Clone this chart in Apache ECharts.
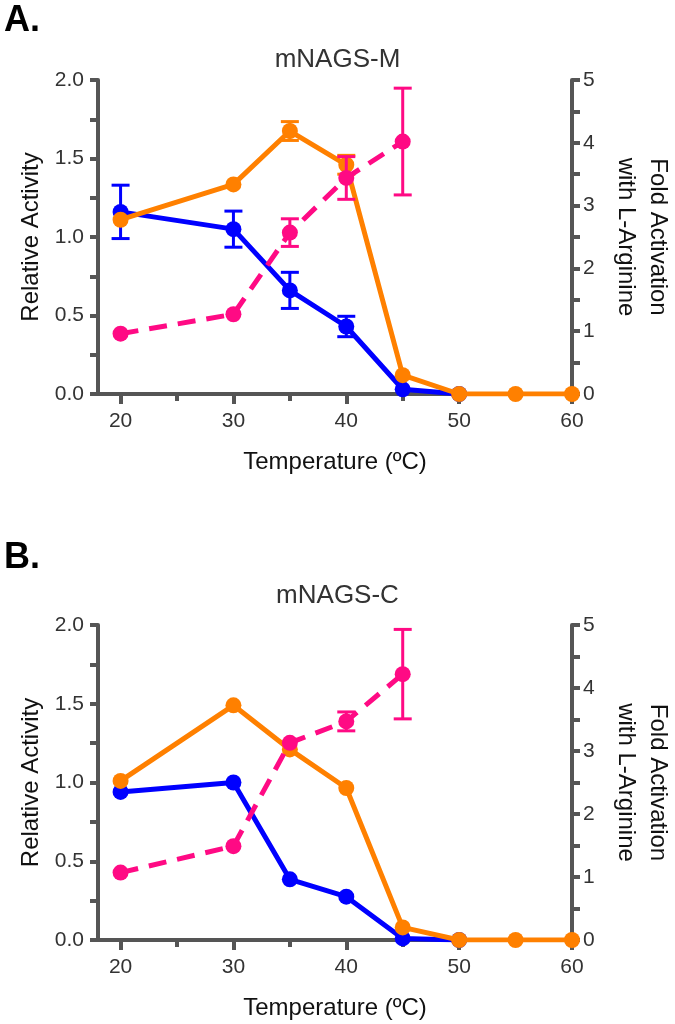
<!DOCTYPE html>
<html>
<head>
<meta charset="utf-8">
<script src="https://cdn.jsdelivr.net/npm/echarts@6/dist/echarts.min.js"></script>
<style>
html, body { margin: 0; padding: 0; background: #fff; }
#chart { width: 675px; height: 1024px; }
</style>
</head>
<body>
<div id="chart"></div>
<script>
var temps = [20, 30, 35, 40, 45, 50, 55, 60];

// A. mNAGS-M
var mNoArg = [1.16, 1.05, 0.66, 0.43, 0.03, 0, null, null];
var mNoArgErr = [0.17, 0.115, 0.115, 0.065, 0, 0, null, null];
var mArg = [1.11, 1.335, 1.675, 1.46, 0.12, 0, 0, 0];
var mArgErr = [0, 0, 0.06, 0.06, 0, 0, 0, 0];
var mFold = [0.96, 1.27, 2.57, 3.44, 4.02, null, null, null];
var mFoldErr = [0, 0, 0.22, 0.34, 0.85, null, null, null];

// B. mNAGS-C
var cNoArg = [0.94, 1.0, 0.385, 0.275, 0.01, 0, null, null];
var cArg = [1.01, 1.49, 1.21, 0.965, 0.08, 0, 0, 0];
var cFold = [1.07, 1.49, 3.13, 3.47, 4.22, null, null, null];
var cFoldErr = [0, 0, 0, 0.15, 0.71, null, null, null];

var xMajor = [20, 30, 40, 50, 60];
var xMinor = [25, 35, 45, 55];

var FONT = 'Liberation Sans, Arial, sans-serif';
var AXIS = '#555';
var BLUE = '#0000ff', ORANGE = '#ff8000', PINK = '#ff0a84';

function pts(vals) {
	var out = [];
	for (var i = 0; i < temps.length; i++) {
		if (vals[i] != null) out.push([temps[i], vals[i]]);
	}
	return out;
}
function errs(vals, err) {
	var out = [];
	for (var i = 0; i < temps.length; i++) {
		if (vals[i] != null && err[i]) out.push([temps[i], vals[i] - err[i], vals[i] + err[i]]);
	}
	return out;
}

function lineSeries(vals, color, xi, yi, z, dashed) {
	return {
		type: 'line', xAxisIndex: xi, yAxisIndex: yi, z: z,
		data: pts(vals), symbol: 'circle', symbolSize: 16,
		itemStyle: { color: color },
		lineStyle: { color: color, width: 5, type: dashed ? [18, 11] : 'solid' },
		animation: false, silent: true
	};
}

function errSeries(data, color, xi, yi, z) {
	return {
		type: 'custom', xAxisIndex: xi, yAxisIndex: yi, z: z, silent: true,
		data: data, encode: { x: 0, y: [1, 2] }, animation: false,
		renderItem: function (params, api) {
			var x = api.value(0);
			var lo = api.coord([x, api.value(1)]);
			var hi = api.coord([x, api.value(2)]);
			var w = 9;
			var st = { stroke: color, lineWidth: 3 };
			return {
				type: 'group', children: [
					{ type: 'line', shape: { x1: lo[0], y1: lo[1], x2: hi[0], y2: hi[1] }, style: st },
					{ type: 'line', shape: { x1: lo[0] - w, y1: lo[1], x2: lo[0] + w, y2: lo[1] }, style: st },
					{ type: 'line', shape: { x1: hi[0] - w, y1: hi[1], x2: hi[0] + w, y2: hi[1] }, style: st }
				]
			};
		}
	};
}

function xMain(gi) {
	return {
		type: 'value', gridIndex: gi, min: 18, max: 60, position: 'bottom',
		name: 'Temperature (ºC)', nameLocation: 'middle', nameGap: 56,
		nameTextStyle: { fontSize: 24, color: '#111', fontFamily: FONT },
		axisLine: { onZero: false, lineStyle: { color: AXIS, width: 4 } },
		axisTick: { customValues: xMajor, length: 10, lineStyle: { color: AXIS, width: 4 } },
		axisLabel: { customValues: xMajor, margin: 17, fontSize: 21, color: '#333', fontFamily: FONT },
		splitLine: { show: false }
	};
}
function xMinorAxis(gi) {
	return {
		type: 'value', gridIndex: gi, min: 18, max: 60, position: 'bottom',
		axisLine: { show: false, onZero: false },
		axisTick: { customValues: xMinor, length: 7, lineStyle: { color: AXIS, width: 4 } },
		axisLabel: { show: false },
		splitLine: { show: false }
	};
}
function yLeft(gi) {
	return {
		type: 'value', gridIndex: gi, min: 0, max: 2, interval: 0.25, position: 'left',
		name: 'Relative Activity', nameLocation: 'middle', nameGap: 55,
		nameTextStyle: { fontSize: 24, color: '#111', fontFamily: FONT },
		axisLine: { show: true, onZero: false, lineStyle: { color: AXIS, width: 4 } },
		axisTick: { show: true, length: 8, lineStyle: { color: AXIS, width: 4 } },
		axisLabel: {
			margin: 14, fontSize: 21, color: '#333', fontFamily: FONT,
			formatter: function (v) { return Math.abs(v * 2 - Math.round(v * 2)) < 1e-6 ? v.toFixed(1) : ''; }
		},
		splitLine: { show: false }
	};
}
function yRight(gi) {
	return {
		type: 'value', gridIndex: gi, min: 0, max: 5, interval: 0.5, position: 'right',
		name: 'Fold Activation\nwith L-Arginine', nameLocation: 'middle', nameGap: 38, nameRotate: -90,
		nameTextStyle: { fontSize: 24, color: '#111', fontFamily: FONT, lineHeight: 32 },
		axisLine: { show: true, onZero: false, lineStyle: { color: AXIS, width: 4 } },
		axisTick: { show: true, length: 8, lineStyle: { color: AXIS, width: 4 } },
		axisLabel: {
			margin: 11, fontSize: 21, color: '#333', fontFamily: FONT,
			formatter: function (v) { return Math.abs(v - Math.round(v)) < 1e-6 ? String(Math.round(v)) : ''; }
		},
		splitLine: { show: false }
	};
}

var chart = echarts.init(document.getElementById('chart'));
var option = {
	backgroundColor: '#fff',
	animation: false,
	title: [
		{ text: 'A.', left: 4, top: 3, padding: 0, textStyle: { fontSize: 36, fontWeight: 'bold', color: '#000', fontFamily: FONT } },
		{ text: 'mNAGS-M', left: 'center', top: 47, padding: 0, textStyle: { fontSize: 26, fontWeight: 'normal', color: '#333', fontFamily: FONT } },
		{ text: 'B.', left: 4, top: 540, padding: 0, textStyle: { fontSize: 36, fontWeight: 'bold', color: '#000', fontFamily: FONT } },
		{ text: 'mNAGS-C', left: 'center', top: 583, padding: 0, textStyle: { fontSize: 26, fontWeight: 'normal', color: '#333', fontFamily: FONT } }
	],
	grid: [
		{ left: 98, width: 474, top: 80, height: 314, outerBoundsMode: 'none' },
		{ left: 98, width: 474, top: 625, height: 315, outerBoundsMode: 'none' }
	],
	xAxis: [xMain(0), xMinorAxis(0), xMain(1), xMinorAxis(1)],
	yAxis: [yLeft(0), yRight(0), yLeft(1), yRight(1)],
	series: [
		// panel A
		errSeries(errs(mNoArg, mNoArgErr), BLUE, 0, 0, 2),
		lineSeries(mNoArg, BLUE, 0, 0, 2, false),
		errSeries(errs(mArg, mArgErr), ORANGE, 0, 0, 3),
		lineSeries(mArg, ORANGE, 0, 0, 3, false),
		errSeries(errs(mFold, mFoldErr), PINK, 0, 1, 4),
		lineSeries(mFold, PINK, 0, 1, 4, true),
		// panel B
		lineSeries(cNoArg, BLUE, 2, 2, 2, false),
		lineSeries(cArg, ORANGE, 2, 2, 3, false),
		errSeries(errs(cFold, cFoldErr), PINK, 2, 3, 4),
		lineSeries(cFold, PINK, 2, 3, 4, true)
	]
};
chart.setOption(option);
</script>
</body>
</html>
